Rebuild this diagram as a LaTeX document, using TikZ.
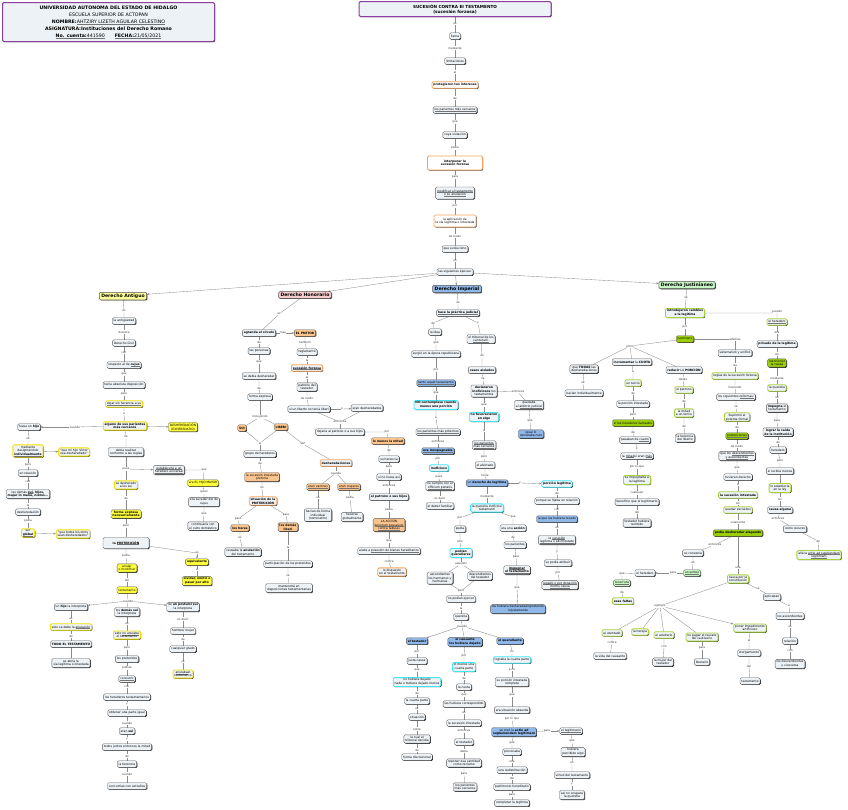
\documentclass[tikz,border=0pt]{standalone}
\usepackage{fontspec}
\setmainfont{DejaVu Sans}
\usetikzlibrary{shadows,backgrounds,arrows.meta}
\definecolor{bxf}{HTML}{EDF2F6}
\definecolor{yf}{HTML}{FFFF3C}
\definecolor{yb}{HTML}{F0E000}
\definecolor{of}{HTML}{FBC48E}
\definecolor{ob}{HTML}{F7A35C}
\definecolor{bf}{HTML}{8FB7E8}
\definecolor{cb}{HTML}{3DE6F5}
\definecolor{gf}{HTML}{9ACD0A}
\definecolor{gb}{HTML}{A8D13A}
\definecolor{lgf}{HTML}{C7F5C4}
\definecolor{pkf}{HTML}{F7CCCC}
\definecolor{ayf}{HTML}{FFFF99}
\definecolor{pur}{HTML}{8A3FA0}
\newcommand{\ud}[1]{\setbox0\hbox{#1}\rlap{\textcolor{black!55}{\rule[-0.4pt]{\wd0}{0.16pt}}}\box0}
\tikzset{
 bx/.style={draw=black!65, line width=0.35pt, fill=bxf, rounded corners=1.3pt, inner xsep=1.4pt, inner ysep=1.1pt, minimum height=6.5pt, align=center, font=\fontsize{3}{3.7}\selectfont, drop shadow={shadow xshift=0.7pt,shadow yshift=-0.7pt,fill=black!85,opacity=1}},
 yfl/.style={fill=yf}, ybd/.style={draw=yb,line width=0.8pt},
 ofl/.style={fill=of}, obd/.style={draw=ob,line width=0.8pt},
 bfl/.style={fill=bf}, cbd/.style={draw=cb,line width=0.8pt},
 gfl/.style={fill=gf}, gbd/.style={draw=gb,line width=0.8pt},
 lgfl/.style={fill=lgf},
 era/.style={font=\fontsize{4.6}{5.5}\selectfont\bfseries, inner xsep=2pt, inner ysep=1.5pt, line width=0.5pt},
 lb/.style={fill=white, inner sep=0.3pt, font=\fontsize{2.8}{3.2}\selectfont, text=black!80},
 ln/.style={draw=black!45, line width=0.35pt},
 arr/.style={-{Stealth[length=2.4pt,width=2pt]}}
}
\newcommand{\NB}[4][]{\node[bx,#1] (#2) at (#3) {#4};}
\newcommand{\NL}[3]{\node[lb] (#1) at (#2) {#3};}
\newcommand{\lnk}[3]{\draw[ln] (#1) -- (#2) -- (#3);}
\newcommand{\lnka}[3]{\draw[ln] (#1) -- (#2); \draw[ln,arr] (#2) -- (#3);}
\newcommand{\lnkd}[2]{\draw[ln] (#1) -- (#2);}
\begin{document}
\begin{tikzpicture}[x=1pt,y=-1pt]
\useasboundingbox (0,0) rectangle (848,809);
% header
\node[bx, draw=pur, line width=1pt, minimum width=212pt, minimum height=39pt, font=\fontsize{4.7}{7}\selectfont, inner ysep=1pt] (hd) at (108.5,22) {\textbf{UNIVERSIDAD AUTONOMA DEL ESTADO DE HIDALGO}\\ESCUELA SUPERIOR DE ACTOPAN\\\textbf{NOMBRE:}\ud{AHTZIRY LIZETH AGUILAR CELESTINO}\\\textbf{ASIGNATURA:Instituciones del Derecho Romano}\\\textbf{\ud{No. cuenta:}}\ud{441590}\hspace{10pt}\textbf{\ud{FECHA:}}\ud{21/05/2021}};
% title
\node[bx, draw=pur, line width=1pt, minimum width=192pt, minimum height=15pt, font=\fontsize{4.2}{5.2}\selectfont\bfseries] (T) at (455,9) {SUCESIÓN CONTRA EI TESTAMENTO\\(sucesión forzosa)};
% center chain
\NL{l1}{455,24}{es} \NB{c1}{455,36}{llama}
\NL{l2}{455,48}{mediante} \NB{c2}{455,61}{limitaciones}
\NL{l3}{455,72}{al} \NB[obd,fill=white]{c3}{455,85}{\textbf{protegieron tus intereses}}
\NL{l4}{455,98}{de} \NB{c4}{455,110}{\ud{los parientes más cercanos}}
\NL{l5}{455,122}{que} \NB{c5}{455,135}{cuya violación}
\NL{l6}{455,148}{podía} \NB[obd,fill=white,minimum width=55pt,minimum height=14pt]{c6}{455,163}{\textbf{interponer la}\\\textbf{sucesión forzosa}}
\NL{l7}{455,177}{para} \NB[minimum height=12pt]{c7}{455,193}{\ud{modificar el testamento}\\\ud{o su anulación}}
\NL{l8}{455,206}{por} \NB[obd,fill=white,minimum height=12pt]{c8}{455,221}{la aplicación de\\la vía legítima o intestada}
\NL{l9}{455,236}{de modo} \NB{c9}{455,249}{que evoluciono}
\NL{l10}{455,261}{en} \NB{c10}{455,272}{las siguientes épocas:}
% eras
\NB[era,fill=ayf]{A}{123,296}{Derecho Antiguo}
\NB[era,fill=pkf]{H}{305,295}{Derecho Honorario}
\NB[era,fill=bf]{I}{457,289}{Derecho Imperial}
\NB[era,fill=lgf]{J}{687,285}{Derecho Justinianeo}
% ===== Antiguo
\NL{la1}{124,311}{es} \NB{a1}{124,321}{la antigüedad}
\NL{la2}{124,332}{durante} \NB{a2}{124,343}{Derecho Civil}
\NL{la3}{124,353}{con} \NB{a3}{124,365}{respecto al de \textbf{\ud{cujus}}}
\NL{la4}{124,374}{que} \NB{a4}{124,385}{tenía absoluta disposición}
\NL{la5}{124,394}{pero} \NB[ybd]{a5}{124,404}{\ud{dejar sin herencia a su}}
\NL{la6}{124,414}{a} \NB[ybd]{a6}{125,426}{\textbf{alguno de sus parientes}\\\textbf{más cercanos}}
\NB[yfl]{a7}{183,427}{DESHEREDACIÓN\\(EXHEREDATIO)}
\NL{la7}{75,427}{cuando} \NB{a8}{29,427}{fuese un \textbf{hijo}}
\NL{la8}{28,439}{se} \NB[ybd]{a9}{28,451}{mediante\\desigmándolo\\\textbf{\ud{individualmente}}}
\NB[ybd]{a10}{74,452}{"que mi hijo Victor\\sea desheredado"}
\NL{la9}{28,465}{pero} \NB{a11}{28,473}{en relación}
\NL{la10}{28,482}{con} \NB{a12}{28,494}{los demás \textbf{\ud{sui}, hijos,}\\\textbf{mujer in manu, nietos...}}
\NL{la11}{28,505}{la} \NB{a13}{28,512}{desheredación}
\NL{la12}{28,521}{podía} \NB[ybd]{a14}{28,533}{ser\\\textbf{\ud{global}}}
\NB[ybd]{a15}{73,534}{"que todos los otros\\sean desheredados"}
\NL{la13}{126,437}{se} \NB{a16}{126,452}{debía realizar\\conforme a las reglas}
\NL{la14}{126,469}{pues} \NB{a17}{169,470}{\ud{establecerá a un}\\\ud{heredero universal}}
\NL{la15}{204,470}{que} \NB[yfl]{a18}{203,483}{era EL HIJO MAYOR}
\NL{la16}{204,492}{quien} \NB{a19}{204,502}{era suceder del de\\cujus}
\NL{la17}{204,514}{que} \NB{a20}{203,526}{continuaría con\\el culto doméstico}
\NB[ybd]{a21}{126,485}{se desheredo\\a los sui}
\NL{la18}{126,498}{de} \NB[yfl]{a22}{126,514}{\textbf{forma expresa}\\\textbf{necesariamente}}
\NL{la19}{126,526}{pero} \NB[minimum width=46pt,minimum height=11pt]{a23}{126,543}{\textbf{la \ud{PRETERICIÓN}}}
\NL{la20}{197,553}{es} \NB[yfl]{a24}{197,562}{\textbf{equivalente}}
\NL{la21}{197,570}{a} \NB[yfl]{a25}{197,581}{\textbf{olvidar, omitir o}\\\textbf{pasar por alto}}
\NL{la22}{126,556}{podía} \NB[yfl]{a26}{127,568}{anular\\o modificar}
\NL{la23}{127,580}{del} \NB[yfl]{a27}{127,590}{testamento}
\NL{la24}{128,601}{cuando}
\NB{a28}{71,607}{un \textbf{hijo} la interpreta}
\NB{a29}{127,612}{los \textbf{demás sui}\\la interpreta}
\NB{a30}{183,607}{de \textbf{un postumi sui}\\la interpreta}
\NL{la25}{71,619}{es} \NB[ybd]{a31}{71,627}{esto se debe la \ud{anulación}}
\NL{la26}{71,636}{de} \NB{a32}{71,644}{\textbf{TODO EL TESTAMENTO}}
\NB{a33}{71,663}{se abría la\\vía legítima o intestada}
\NL{la27}{127,624}{es} \NB[ybd]{a34}{127,635}{esto \ud{no anulaba}\\el testamento}
\NL{la28}{127,648}{pero} \NB{a35}{127,659}{los preteridos}
\NL{la29}{127,668}{podían} \NB{a36}{127,679}{\ud{concurrir}}
\NL{la30}{127,687}{con} \NB{a37}{127,697}{los herederos testamentarios}
\NL{la31}{127,704}{y} \NB{a38}{127,713}{obtener una parte igual}
\NL{la32}{127,723}{cuando} \NB{a39}{127,731}{eran \textbf{sui}}
\NL{la33}{127,739}{y} \NB{a40}{127,747}{todos juntos entonces la mitad}
\NL{la34}{127,756}{de} \NB{a41}{127,764}{la herencia}
\NL{la35}{127,774}{cuando} \NB{a42}{127,786}{concurrían con extraños}
\NL{la36}{183,619}{es decir} \NB{a43}{183,631}{hombre/ mujer}
\NL{la37}{183,639}{de} \NB{a44}{183,649}{cualquier grado}
\NL{la38}{183,662}{se} \NB[ybd]{a45}{183,674}{\ud{anulaba} el\\testamento}
% ===== Honorario
\NL{lh1}{279,314}{es} \NB{h1}{259,333}{\textbf{agranda el círculo}}
\NL{lh2}{283,333}{mas} \NB[ofl]{h2}{305,333}{\textbf{EL PRETOR}}
\NL{lh3}{305,342}{también} \NB{h3}{307,352}{reglamentó}
\NL{lh4}{307,360}{la} \NB[obd]{h4}{307,368}{\textbf{\ud{sucesión forzosa}}}
\NL{lh5}{307,377}{al} \NB{h5}{307,387}{patrono del\\testador}
\NL{lh6}{307,398}{de modo} \NB{h6}{309,409}{si un liberto no tenía liberi}
\NL{lh7}{342,409}{o} \NB{h7}{367,408}{eran desheredados}
\NL{lh8}{340,422}{entonces} \NB{h8}{340,432}{dejaría al patrono o a sus hijos}
\NL{lh9}{387,432}{por} \NB[ofl]{h9}{388,441}{\textbf{lo menos la mitad}}
\NL{lh10}{389,450}{de} \NB{h10}{389,459}{su herencia}
\NL{lh11}{389,467}{pero} \NB{h11}{389,477}{si no fuese así}
\NL{lh12}{389,486}{entonces} \NB{h12}{389,497}{\textbf{el patrono o sus hijos}}
\NL{lh13}{389,510}{pedía} \NB[ofl]{h13}{389,525}{LA ACCIÓN\\\ud{bonorum possessio}\\\ud{contra tabulas}}
\NL{lh14}{389,541}{que} \NB{h14}{389,551}{alude a \ud{posesión de bienes hereditarios}}
\NL{lh15}{389,562}{contra} \NB[obd]{h15}{392,572}{lo dispuesto\\en el testamento}
\NL{lh16}{259,342}{de} \NB{h16}{259,351}{las personas}
\NL{lh17}{259,362}{que} \NB{h17}{259,376}{se debía desheredar}
\NL{lh18}{259,388}{de} \NB{h18}{260,397}{forma expresa}
\NL{lh19}{260,417}{incluyendo}
\NB[ofl]{h19}{242,428}{\textbf{SUI}} \NB[ofl]{h20}{281,427}{\textbf{LIBERI}}
\NL{lh20}{260,443}{el} \NB{h21}{260,454}{grupo de herederos}
\NL{lh21}{260,463}{de} \NB[ofl]{h22}{262,477}{la sucesión intestada\\pretoria}
\NL{lh22}{262,488}{en} \NB[obd]{h23}{263,501}{\textbf{situación de la}\\\textbf{PRETERICIÓN}}
\NL{lh23}{238,519}{para} \NB[ofl]{h24}{240,528}{\textbf{los heres}}
\NL{lh24}{240,538}{es} \NB{h25}{243,552}{causaba la \textbf{anulación}\\del testamento}
\NL{lh25}{286,515}{para} \NB[ofl]{h26}{288,527}{\textbf{los demás}\\\textbf{liberi}}
\NL{lh26}{288,547}{la} \NB{h27}{288,564}{participación de los preteridos}
\NL{lh27}{288,576}{se} \NB{h28}{289,588}{mantendrá en\\disposiciones testamentarias}
\NL{lh28}{303,444}{son} \NB[obd]{h29}{336,463}{\textbf{desheredaciones}}
\NL{lh29}{336,473}{cuando}
\NB[ofl]{h30}{318,487}{\ud{eran varones}} \NB[ofl]{h31}{349,487}{\ud{eran mujeres}}
\NL{lh30}{318,498}{se} \NB{h32}{318,515}{hacían de forma\\individual\\(nominatim)}
\NL{lh31}{350,498}{podía} \NB{h33}{352,517}{hacerse\\globalmente}
% ===== Imperial
\NL{li1}{458,303}{se} \NB{i1}{458,313}{\textbf{\ud{hace la práctica judicial}}}
\NL{li2}{433,323}{de} \NB{i2}{435,332}{la idea}
\NL{li3}{478,323}{y} \NB{i3}{481,339}{el tribunal de los\\\ud{centunviri}}
\NL{li4}{436,343}{que} \NB{i4}{436,354}{surgió en la época republicana}
\NL{li5}{436,370}{por} \NB[bfl]{i5}{436,383}{\ud{tanto aquél testamento}}
\NL{li6}{436,393}{que} \NB[cbd]{i6}{436,405}{\textbf{NO contemplase cuando}\\\textbf{menos una porción}}
\NL{li7}{436,418}{a} \NB{i7}{438,432}{\ud{los parientes más próximos}}
\NL{li8}{438,442}{entonces} \NB[bfl]{i8}{438,451}{\textbf{\ud{era inoxpugnable}}}
\NL{li9}{438,459}{por} \NB[cbd]{i9}{439,468}{\textbf{inoficioso}}
\NL{li10}{439,477}{pues} \NB{i10}{440,486}{no cumple con el\\\ud{officium pietatis}}
\NL{li11}{440,498}{es decir} \NB{i11}{440,506}{el deber familiar}
\NL{li12}{482,356}{en} \NB{i12}{482,370}{\textbf{casos aislados}}
\NL{li13}{483,379}{se} \NB{i13}{484,391}{\textbf{declararon}\\\textbf{inoficiosos} los\\testamentos}
\NL{li14}{518,392}{entonces} \NB{i14}{529,405}{quedaba\\al \ud{arbitrio judicial}}
\NL{li15}{530,421}{que} \NB[bfl]{i15}{531,434}{igual lo\\declaraba nulo}
\NL{li16}{484,405}{que} \NB[cbd]{i16}{484,417}{\textbf{no favorecieron}\\\textbf{en algo}}
\NL{li17}{484,431}{a} \NB{i17}{484,445}{\ud{los parientes}\\\ud{más cercanos}}
\NL{li18}{484,457}{pero} \NB{i18}{485,465}{el afectado}
\NL{li19}{485,475}{tenía} \NB[bfl]{i19}{487,483}{un \textbf{derecho de legitima}}
\NL{li20}{520,483}{y} \NB[cbd]{i20}{557,484}{\textbf{porción legítima}}
\NL{li21}{487,496}{mediante} \NB[cbd]{i21}{487,508}{la querella inoficiosi\\testamenti}
\NL{li22}{460,518}{por} \NB{i22}{460,529}{pedía}
\NL{li23}{460,541}{sólo} \NB[cbd]{i23}{461,553}{\textbf{podían}\\\textbf{querellarse}}
\NL{li24}{461,564}{aquellos}
\NB{i24}{440,578}{ascendientes\\los hermanos y\\hermanas} \NB{i25}{480,576}{descendientes\\del testador}
\NL{li25}{461,591}{pero} \NB{i26}{461,599}{no podían ejercer}
\NL{li26}{461,608}{la} \NB{i27}{461,617}{querella}
\NL{li27}{462,626}{cuando}
\NB[bfl]{i28}{417,641}{\textbf{el testador}}
\NB[bfl]{i29}{465,642}{\textbf{el causante}\\\textbf{los hubiera dejado}}
\NB[bfl]{i30}{510,641}{\textbf{el querellante}}
\NL{li28}{417,652}{por} \NB{i31}{417,661}{justa causa}
\NL{li29}{417,670}{que} \NB[cbd]{i32}{417,682}{no hubiera dejado\\nada o hubiera dejado menos}
\NL{li30}{417,693}{de} \NB{i33}{417,701}{la cuarta parte}
\NL{li31}{417,709}{es} \NB{i34}{417,717}{situación}
\NL{li32}{417,729}{sobre} \NB{i35}{417,739}{la cual el\\tribunal decidía}
\NL{li33}{417,750}{de} \NB{i36}{417,757}{forma discrecional}
\NL{li34}{464,656}{por} \NB[cbd]{i37}{464,667}{lo menos una\\cuarta parte}
\NL{li35}{464,678}{de} \NB{i38}{464,687}{la cuota}
\NL{li36}{464,695}{que} \NB{i39}{464,704}{les hubiera correspondido}
\NL{li37}{464,713}{en} \NB{i40}{464,723}{la sucesión intestada}
\NL{li38}{464,731}{entonces} \NB{i41}{464,742}{el testador}
\NL{li39}{464,751}{debía} \NB{i42}{464,763}{reponer esa cantidad\\como reclamo}
\NL{li40}{464,774}{para} \NB{i43}{465,787}{los parientes\\más cercanos}
\NL{li41}{512,652}{no} \NB[cbd]{i44}{512,660}{lograba la cuarta parte}
\NL{li42}{512,670}{a no} \NB{i45}{512,682}{su porción intestada\\completa}
\NL{li43}{512,695}{que} \NB{i46}{512,710}{era situación absurda}
\NL{li44}{512,719}{por lo que} \NB[bfl]{i47}{514,732}{se creó la \textbf{actio ad}\\\textbf{suplemendam legitimam}}
\NL{li45}{512,743}{que} \NB{i48}{512,752}{provocaba}
\NL{li46}{512,762}{una} \NB{i49}{512,770}{una redistribución}
\NL{li47}{512,778}{del} \NB{i50}{512,787}{patrimonio hereditario}
\NL{li48}{512,795}{para} \NB{i51}{512,803}{completar la legítima}
\NL{li49}{547,731}{para} \NB{i52}{571,731}{\ud{el legitimario}}
\NL{li50}{572,741}{que} \NB{i53}{573,752}{hubiera\\percibido algo}
\NL{li51}{572,763}{en} \NB{i54}{572,775}{virtud del testamento}
\NL{li52}{572,784}{y} \NB{i55}{572,795}{así no ocupara\\la querella}
\NL{li53}{513,517}{que} \NB{i56}{513,528}{era una \textbf{acción}}
\NL{li54}{513,537}{de} \NB{i57}{515,545}{los parientes}
\NL{li55}{516,557}{para} \NB{i58}{517,570}{\textbf{\ud{impugnar}}\\\textbf{\ud{el testamento}}}
\NL{li56}{517,588}{que} \NB[bfl]{i59}{518,609}{los hubiera desheredado/preterido\\injustamente}
\NL{li57}{557,493}{de} \NB{i60}{557,501}{porque se fijaba en relación}
\NL{li58}{557,510}{con} \NB[bfl]{i61}{557,519}{la que les hubiera tocado}
\NL{li59}{557,528}{en} \NB{i62}{557,540}{la \ud{sucesión}\\\ud{legítima o ab intestato}}
\NL{li60}{557,552}{y} \NB{i63}{558,563}{se podía atribuir}
\NL{li61}{558,573}{por} \NB{i64}{560,585}{\ud{legado o por donación}\\\ud{mortis causa}}
% ===== Justinianeo
\NL{lj1}{686,298}{se} \NB[gbd]{j1}{685,313}{\textbf{introdujeron cambios}\\\textbf{a la legítima}}
\NL{lj2}{685,327}{por} \NB[gfl]{j2}{685,339}{Justiniano}
\NL{lj3}{630,346}{cómo}
\NB{j3}{584,369}{que \textbf{TODAS} las\\desheredaciones}
\NB{j4}{632,362}{\textbf{incrementar} la \textbf{CUOTA}}
\NB{j5}{684,370}{\textbf{reducir} LA \textbf{PORCIÓN}}
\NL{lj4}{583,383}{se} \NB{j6}{584,393}{hacían individualmente}
\NL{lj5}{633,372}{a} \NB[gbd]{j7}{633,383}{un tercio}
\NL{lj6}{633,393}{de} \NB{j8}{633,404}{la porción intestada}
\NL{lj7}{633,415}{pero} \NB[gfl]{j9}{633,423}{si los herederos llamados}
\NL{lj8}{633,432}{de} \NB{j10}{635,440}{pasaban de \ud{cuatro}}
\NL{lj9}{637,449}{y} \NB{j11}{637,456}{la \ud{mitad} si eran \ud{más}}
\NL{lj10}{637,467}{por lo que} \NB[gbd]{j12}{637,480}{se impugnaba a\\la legítima}
\NL{lj11}{637,493}{cualquier} \NB{j13}{637,502}{beneficio que el legitimario}
\NL{lj12}{637,512}{del} \NB{j14}{637,523}{testador hubiera\\recibido}
\NL{lj13}{683,379}{desde} \NB[gbd]{j15}{684,390}{el patrono}
\NL{lj14}{684,401}{de} \NB[gbd]{j16}{684,413}{la mitad\\a un tercio}
\NL{lj15}{684,426}{de} \NB{j17}{685,438}{la herencia\\del liberto}
\NL{lj16}{777,311}{cuando} \NB[gbd]{j18}{777,322}{\ud{el heredero}}
\NL{lj17}{777,333}{era} \NB{j19}{777,344}{\textbf{privado de la legítima}}
\NL{lj18}{777,354}{sin} \NB[gfl]{j20}{777,363}{mencionar\\la causa}
\NL{lj19}{777,378}{mediante} \NB[gbd]{j21}{777,388}{la querella}
\NL{lj20}{777,398}{se} \NB{j22}{777,408}{\textbf{impugna} el\\testamento}
\NL{lj21}{777,421}{para} \NB{j23}{778,432}{\textbf{lograr la caída}\\\textbf{de la institución}}
\NL{lj22}{778,442}{de} \NB{j24}{778,450}{heredero}
\NL{lj23}{780,461}{pero} \NB{j25}{780,471}{si recibía menos}
\NB[gbd]{j26}{780,488}{lo establecía\\en la ley}
\NL{lj25}{780,499}{sin} \NB{j27}{780,510}{\textbf{causa alguna}}
\NL{lj26}{778,519}{entonces} \NB{j28}{795,529}{como recurso}
\NL{lj27}{818,541}{de} \NB[gbd]{j29}{819,555}{allá la \ud{actio ad supplendam}\\\ud{legitimam}}
\NL{lj28}{735,339}{además} \NB{j30}{735,353}{sistematizó y unificó}
\NL{lj29}{735,365}{las} \NB[gbd]{j31}{735,376}{reglas de la sucesión forzosa}
\NL{lj30}{735,387}{haciendo} \NB{j32}{736,397}{los siguientes \ud{reformas:}}
\NL{lj31}{736,407}{se} \NB[gbd]{j33}{737,417}{Suprimió el\\sistema formal}
\NL{lj32}{737,427}{de} \NB[gfl]{j34}{737,436}{\ud{pretericiones}}
\NL{lj33}{737,446}{de modo} \NB{j35}{737,456}{que los \ud{descendientes}\\\ud{y ascendientes}}
\NL{lj34}{737,468}{que} \NB{j36}{738,477}{tuvieran derecho}
\NL{lj35}{738,485}{a} \NB[gbd]{j37}{738,495}{\textbf{la sucesión intestada}}
\NL{lj36}{738,503}{sin} \NB[gbd]{j38}{738,510}{quedar excluidos}
\NL{lj37}{738,522}{solamente} \NB[gfl]{j39}{738,533}{\textbf{podía desheredar alegando}}
\NL{lj38}{715,545}{entonces} \NB{j40}{693,553}{se convenía}
\NL{lj39}{693,563}{en} \NB[lgfl]{j41}{692,573}{\ud{un sorteo}}
\NL{lj40}{673,573}{para} \NB{j42}{645,573}{el heredero}
\NL{lj41}{622,574}{que} \NB[lgfl]{j43}{622,583}{\ud{tocorrura}}
\NL{lj42}{622,592}{de} \NB[gbd]{j44}{623,601}{\textbf{esas faltas}}
\NL{lj43}{738,568}{una} \NB[gbd]{j45}{738,579}{causa por la\\constitución}
\NL{lj44}{660,606}{ejemplo}
\NB[gbd]{j46}{612,633}{el atentado}
\NB[gbd]{j47}{640,632}{la herejía}
\NB[gbd]{j48}{664,635}{el adulterio}
\NB[gbd]{j49}{702,637}{no pagar el rescate\\del cautiverio}
\NB[gbd]{j50}{750,628}{poner impedimento\\artificioso}
\NL{lj45}{612,643}{contra} \NB{j51}{610,656}{la vida del causante}
\NL{lj46}{664,647}{con} \NB{j52}{663,662}{la mujer del\\testador}
\NL{lj47}{702,648}{para} \NB{j53}{702,662}{liberarlo}
\NL{lj48}{749,640}{al} \NB{j54}{749,653}{otorgamiento}
\NL{lj49}{749,666}{del} \NB{j55}{750,681}{testamento}
\NL{lj50}{758,589}{se} \NB{j56}{772,597}{aplicaban}
\NL{lj51}{789,606}{a} \NB{j57}{790,616}{los ascendientes}
\NL{lj52}{790,627}{en} \NB{j58}{790,641}{relación}
\NL{lj53}{790,651}{con} \NB{j59}{790,664}{los descendientes\\y viceversa}
% ===== connectors
\begin{scope}[on background layer]
\lnk{T}{l1}{c1}\lnk{c1}{l2}{c2}\lnk{c2}{l3}{c3}\lnk{c3}{l4}{c4}\lnk{c4}{l5}{c5}
\lnk{c5}{l6}{c6}\lnk{c6}{l7}{c7}\lnk{c7}{l8}{c8}\lnk{c8}{l9}{c9}\lnk{c9}{l10}{c10}
\draw[ln,arr] (c10) -- (A); \draw[ln,arr] (c10) -- (H); \draw[ln,arr] (c10) -- (I); \draw[ln,arr] (c10) -- (J);
% antiguo
\lnk{A}{la1}{a1}\lnk{a1}{la2}{a2}\lnk{a2}{la3}{a3}\lnk{a3}{la4}{a4}\lnk{a4}{la5}{a5}\lnk{a5}{la6}{a6}
\draw[ln,arr] (a6) -- (a7);
\lnka{a6}{la7}{a8}
\lnk{a8}{la8}{a9} \draw[ln,arr] (a9) -- (a10);
\lnk{a9}{la9}{a11}\lnk{a11}{la10}{a12}\lnk{a12}{la11}{a13}\lnk{a13}{la12}{a14}
\draw[ln,arr] (a14) -- (a15);
\lnk{a6}{la13}{a16}\lnkd{a16}{la14}\draw[ln,arr] (la14) -- (a17);
\draw[ln] (a17) -- (la15) -- (a18);
\lnk{a18}{la16}{a19}\lnk{a19}{la17}{a20}
\lnkd{la14}{a21}\lnk{a21}{la18}{a22}\lnk{a22}{la19}{a23}
\lnka{a23}{la20}{a24}\lnk{a24}{la21}{a25}
\lnk{a23}{la22}{a26}\lnk{a26}{la23}{a27}\lnkd{a27}{la24}
\draw[ln,arr] (la24) -- (a28); \lnkd{la24}{a29} \draw[ln,arr] (la24) -- (a30);
\lnk{a28}{la25}{a31}\lnk{a31}{la26}{a32}\lnkd{a32}{a33}
\lnk{a29}{la27}{a34}\lnk{a34}{la28}{a35}\lnk{a35}{la29}{a36}\lnk{a36}{la30}{a37}
\lnk{a37}{la31}{a38}\lnk{a38}{la32}{a39}\lnk{a39}{la33}{a40}\lnk{a40}{la34}{a41}\lnk{a41}{la35}{a42}
\lnk{a30}{la36}{a43}\lnk{a43}{la37}{a44}\lnk{a44}{la38}{a45}
% honorario
\lnk{H}{lh1}{h1}\lnka{h1}{lh2}{h2}
\lnk{h2}{lh3}{h3}\lnk{h3}{lh4}{h4}\lnk{h4}{lh5}{h5}\lnk{h5}{lh6}{h6}
\lnka{h6}{lh7}{h7}\lnkd{h6}{lh8}\lnkd{h7}{lh8}\lnkd{lh8}{h8}
\lnk{h8}{lh9}{h9}\lnk{h9}{lh10}{h10}\lnk{h10}{lh11}{h11}\lnk{h11}{lh12}{h12}
\lnk{h12}{lh13}{h13}\lnk{h13}{lh14}{h14}\lnk{h14}{lh15}{h15}
\lnk{h1}{lh16}{h16}\lnk{h16}{lh17}{h17}\lnk{h17}{lh18}{h18}\lnkd{h18}{lh19}
\lnkd{lh19}{h19}\lnkd{lh19}{h20}\lnkd{h19}{lh20}\lnkd{h20}{lh20}
\lnk{lh20}{h21}{lh21}\lnkd{lh21}{h22}\lnk{h22}{lh22}{h23}
\lnk{h23}{lh23}{h24}\lnk{h24}{lh24}{h25}
\lnk{h23}{lh25}{h26}\lnk{h26}{lh26}{h27}\lnk{h27}{lh27}{h28}
\lnk{h20}{lh28}{h29}\lnkd{h29}{lh29}\lnkd{lh29}{h30}\lnkd{lh29}{h31}
\lnk{h30}{lh30}{h32}\lnk{h31}{lh31}{h33}
% imperial
\lnk{I}{li1}{i1}\lnk{i1}{li2}{i2}\lnk{i1}{li3}{i3}
\lnk{i2}{li4}{i4}\lnk{i4}{li5}{i5}\lnk{i5}{li6}{i6}\lnk{i6}{li7}{i7}\lnk{i7}{li8}{i8}
\lnk{i8}{li9}{i9}\lnk{i9}{li10}{i10}\lnk{i10}{li11}{i11}
\lnk{i3}{li12}{i12}\lnk{i12}{li13}{i13}\lnk{i13}{li14}{i14}\lnk{i14}{li15}{i15}
\lnk{i13}{li16}{i16}\lnk{i16}{li17}{i17}\lnk{i17}{li18}{i18}\lnk{i18}{li19}{i19}
\lnka{i19}{li20}{i20}\lnk{i19}{li21}{i21}
\lnk{i21}{li22}{i22}\lnk{i22}{li23}{i23}\lnkd{i23}{li24}\lnkd{li24}{i24}\lnkd{li24}{i25}
\lnkd{i24}{li25}\lnkd{i25}{li25}\lnkd{li25}{i26}\lnk{i26}{li26}{i27}\lnkd{i27}{li27}
\draw[ln,-{Circle[length=1.8pt]}] (li27) -- (i28); \lnkd{li27}{i29}\lnkd{li27}{i30}
\lnk{i28}{li28}{i31}\lnk{i31}{li29}{i32}\lnk{i32}{li30}{i33}\lnk{i33}{li31}{i34}\lnk{i34}{li32}{i35}\lnk{i35}{li33}{i36}
\lnk{i29}{li34}{i37}\lnk{i37}{li35}{i38}\lnk{i38}{li36}{i39}\lnk{i39}{li37}{i40}\lnk{i40}{li38}{i41}\lnk{i41}{li39}{i42}\lnk{i42}{li40}{i43}
\lnk{i30}{li41}{i44}\lnk{i44}{li42}{i45}\lnk{i45}{li43}{i46}\lnk{i46}{li44}{i47}\lnk{i47}{li45}{i48}\lnk{i48}{li46}{i49}\lnk{i49}{li47}{i50}\lnk{i50}{li48}{i51}
\lnka{i47}{li49}{i52}\lnk{i52}{li50}{i53}\lnk{i53}{li51}{i54}\lnk{i54}{li52}{i55}
\lnk{i21}{li53}{i56}\lnk{i56}{li54}{i57}\lnk{i57}{li55}{i58}\lnk{i58}{li56}{i59}
\lnk{i20}{li57}{i60}\lnk{i60}{li58}{i61}\lnk{i61}{li59}{i62}\lnk{i62}{li60}{i63}\lnk{i63}{li61}{i64}
% justinianeo
\lnk{J}{lj1}{j1}\lnk{j1}{lj2}{j2}\lnkd{j2}{lj3}\lnkd{lj3}{j3}\lnkd{lj3}{j4}\lnkd{lj3}{j5}
\lnk{j3}{lj4}{j6}
\lnk{j4}{lj5}{j7}\lnk{j7}{lj6}{j8}\lnk{j8}{lj7}{j9}\lnk{j9}{lj8}{j10}\lnk{j10}{lj9}{j11}\lnk{j11}{lj10}{j12}\lnk{j12}{lj11}{j13}\lnk{j13}{lj12}{j14}
\lnk{j5}{lj13}{j15}\lnk{j15}{lj14}{j16}\lnk{j16}{lj15}{j17}
\draw[ln] (j1) -- (lj16.west|-j1) -- (lj16) -- (j18);
\lnk{j18}{lj17}{j19}\lnk{j19}{lj18}{j20}\lnk{j20}{lj19}{j21}\lnk{j21}{lj20}{j22}\lnk{j22}{lj21}{j23}
\lnk{j23}{lj22}{j24}\lnk{j24}{lj23}{j25}\lnkd{j25}{j26}\lnk{j26}{lj25}{j27}\lnk{j27}{lj26}{j28}\lnk{j28}{lj27}{j29}
\draw[ln] (j2) -- (lj28) -- (j30);
\lnk{j30}{lj29}{j31}\lnk{j31}{lj30}{j32}\lnk{j32}{lj31}{j33}\lnk{j33}{lj32}{j34}\lnk{j34}{lj33}{j35}
\lnk{j35}{lj34}{j36}\lnk{j36}{lj35}{j37}\lnk{j37}{lj36}{j38}\lnk{j38}{lj37}{j39}
\lnk{j39}{lj38}{j40}\lnk{j40}{lj39}{j41}\lnka{j41}{lj40}{j42}\lnk{j42}{lj41}{j43}\lnk{j43}{lj42}{j44}
\lnk{j39}{lj43}{j45}\lnkd{j45}{lj44}
\lnkd{lj44}{j46}\lnkd{lj44}{j47}\lnkd{lj44}{j48}\lnkd{lj44}{j49}\draw[ln,arr] (lj44) -- (j50);
\lnk{j46}{lj45}{j51}\lnk{j48}{lj46}{j52}\lnk{j49}{lj47}{j53}\lnk{j50}{lj48}{j54}\lnk{j54}{lj49}{j55}
\lnk{j45}{lj50}{j56}\lnk{j56}{lj51}{j57}\lnk{j57}{lj52}{j58}\lnk{j58}{lj53}{j59}
\end{scope}
\end{tikzpicture}
\end{document}
